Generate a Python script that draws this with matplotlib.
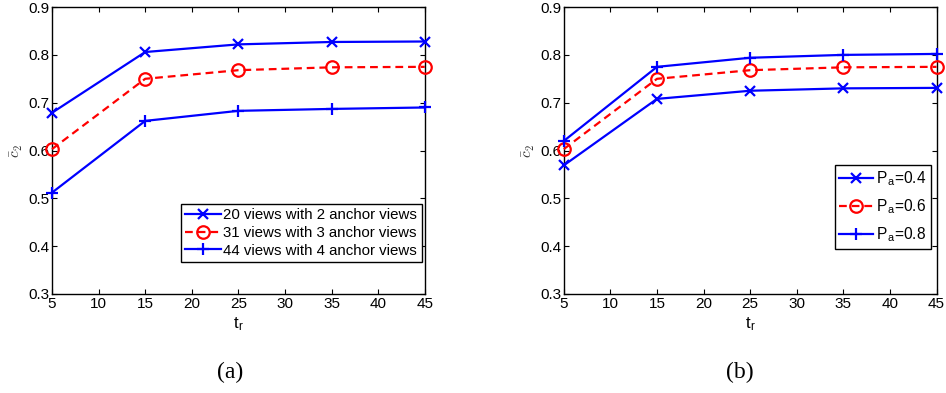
import numpy as np
import matplotlib.pyplot as plt

plt.rcParams['font.family'] = ['Liberation Sans', 'DejaVu Sans']
plt.rcParams['mathtext.fontset'] = 'cm'

t_r = [5, 15, 25, 35, 45]

# (a) number of views / anchor views
views20 = [0.679, 0.806, 0.822, 0.827, 0.828]
views31 = [0.603, 0.750, 0.768, 0.774, 0.775]
views44 = [0.512, 0.662, 0.683, 0.687, 0.690]
labels_a = ['20 views with 2 anchor views', '31 views with 3 anchor views', '44 views with 4 anchor views']

# (b) anchor probability
pa04 = [0.569, 0.708, 0.725, 0.730, 0.731]
pa06 = [0.603, 0.750, 0.768, 0.774, 0.775]
pa08 = [0.620, 0.775, 0.794, 0.800, 0.802]
labels_b = ['P$_\\mathregular{a}$=0.4', 'P$_\\mathregular{a}$=0.6', 'P$_\\mathregular{a}$=0.8']

yticks = [0.3, 0.4, 0.5, 0.6, 0.7, 0.8, 0.9]
xticks = [5, 10, 15, 20, 25, 30, 35, 40, 45]

BLUE = '#0000ff'
RED = '#ff0000'


def style_ax(ax):
    ax.set_xlim(5, 45)
    ax.set_ylim(0.3, 0.9)
    ax.set_xticks(xticks)
    ax.set_yticks(yticks)
    ax.set_yticklabels([f'{v:.1f}' for v in yticks])
    ax.tick_params(direction='in', top=True, right=True, length=3.5, width=0.8,
                   labelsize=11, pad=2)
    for s in ax.spines.values():
        s.set_linewidth(1.0)
    ax.set_xlabel('t$_\\mathregular{r}$', fontsize=12, labelpad=3)
    ax.set_ylabel('$\\bar{c}_2$', fontsize=11, labelpad=2, color='#333333')


fig = plt.figure(figsize=(9.46, 3.93), dpi=100)
ax1 = fig.add_axes([0.055, 0.252, 0.394, 0.730])
ax2 = fig.add_axes([0.596, 0.252, 0.394, 0.730])

kw = dict(linewidth=1.6, clip_on=False, zorder=3)
ax1.plot(t_r, views20, '-', color=BLUE, marker='x', markersize=7, markeredgewidth=1.6, label=labels_a[0], **kw)
ax1.plot(t_r, views31, '--', color=RED, marker='o', markersize=9, markeredgewidth=1.6,
         markerfacecolor='none', dashes=(3.5, 2.2), label=labels_a[1], **kw)
ax1.plot(t_r, views44, '-', color=BLUE, marker='+', markersize=9, markeredgewidth=1.6, label=labels_a[2], **kw)
style_ax(ax1)
leg1 = ax1.legend(loc='lower right', bbox_to_anchor=(0.992, 0.111), borderaxespad=0,
                  fontsize=10.8, handlelength=2.4, labelspacing=0.25, handletextpad=0.15,
                  borderpad=0.3, fancybox=False, framealpha=1, edgecolor='black')
leg1.get_frame().set_linewidth(1.0)

ax2.plot(t_r, pa04, '-', color=BLUE, marker='x', markersize=7, markeredgewidth=1.6, label=labels_b[0], **kw)
ax2.plot(t_r, pa06, '--', color=RED, marker='o', markersize=9, markeredgewidth=1.6,
         markerfacecolor='none', dashes=(3.5, 2.2), label=labels_b[1], **kw)
ax2.plot(t_r, pa08, '-', color=BLUE, marker='+', markersize=9, markeredgewidth=1.6, label=labels_b[2], **kw)
style_ax(ax2)
leg2 = ax2.legend(loc='lower right', bbox_to_anchor=(0.984, 0.157), borderaxespad=0,
                  fontsize=11.2, handlelength=2.2, labelspacing=0.6, handletextpad=0.15,
                  borderpad=0.3, fancybox=False, framealpha=1, edgecolor='black')
leg2.get_frame().set_linewidth(1.0)

fig.text(0.243, 0.053, '(a)', fontsize=17, family='Liberation Serif', ha='center', va='center')
fig.text(0.782, 0.053, '(b)', fontsize=17, family='Liberation Serif', ha='center', va='center')

fig.savefig('out.png', dpi=100)
